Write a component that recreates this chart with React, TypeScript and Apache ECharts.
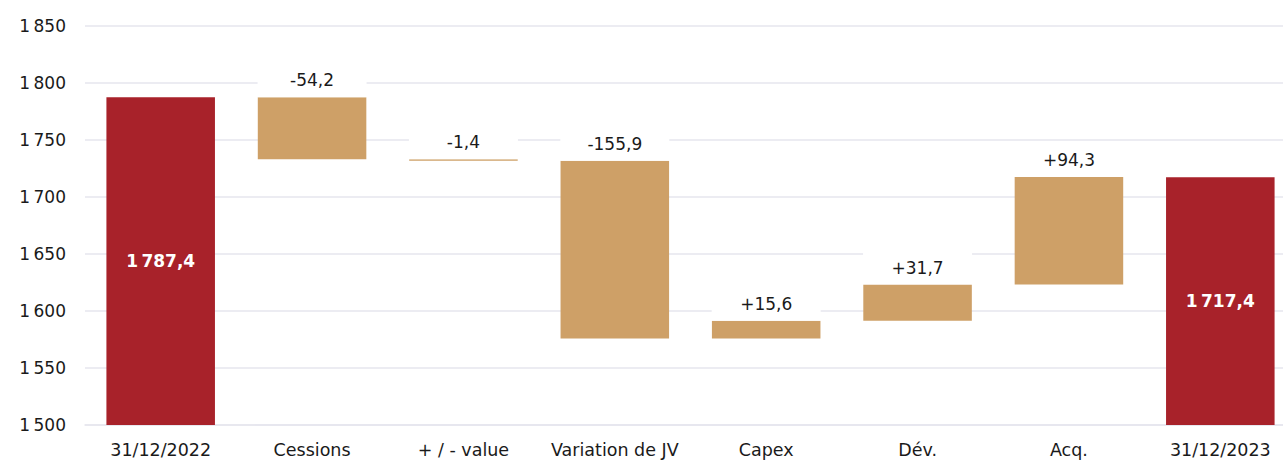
import React, { useEffect, useRef } from "react";
import * as echarts from "echarts";

const categories = ["31/12/2022", "Cessions", "+ / - value", "Variation de JV", "Capex", "Dév.", "Acq.", "31/12/2023"];
const startTotal = 1787.4;
const endTotal = 1717.4;
const deltas = [-54.2, -1.4, -155.9, 15.6, 31.7, 94.3];
const yMin = 1500;
const yMax = 1850;
const yStep = 50;

const RED = "#a8222a";
const TAN = "#cea067";
const TEXT = "#1a1a1a";
const GRID = "#e6e6ee";
const FONT = "DejaVu Sans";

function frNum(v: number, decimals: number): string {
  const fixed = Math.abs(v).toFixed(decimals);
  const [intPart, dec] = fixed.split(".");
  const grouped = intPart.replace(/\B(?=(\d{3})+(?!\d))/g, "\u202f");
  return (v < 0 ? "-" : "") + grouped + (dec ? "," + dec : "");
}

export default function App() {
  const ref = useRef<HTMLDivElement>(null);
  useEffect(() => {
    if (!ref.current) return;
    const chart = echarts.init(ref.current, null, { renderer: "svg" });

    const base: (number | string)[] = ["-"];
    const up: (number | string)[] = ["-"];
    const totals: (number | string)[] = [startTotal];
    let running = startTotal;
    deltas.forEach((d) => {
      const next = running + d;
      base.push(Math.min(running, next) - yMin);
      up.push(Math.abs(d));
      totals.push("-");
      running = next;
    });
    base.push("-");
    up.push("-");
    totals.push(endTotal);

    const totalsOffset = totals.map((t) => (t === "-" ? "-" : (t as number) - yMin));

    chart.setOption({
      animation: false,
      grid: { left: 85, right: 0, top: 26, bottom: 37, containLabel: false },
      xAxis: {
        type: "category",
        data: categories,
        axisLine: { show: true, lineStyle: { color: GRID, width: 1.5 } },
        axisTick: { show: false },
        axisLabel: { color: TEXT, fontSize: 17.5, fontFamily: FONT, margin: 16, interval: 0 },
      },
      yAxis: {
        type: "value",
        min: 0,
        max: yMax - yMin,
        interval: yStep,
        axisLine: { show: false },
        axisTick: { show: false },
        splitLine: { lineStyle: { color: GRID, width: 1.5 } },
        axisLabel: {
          color: TEXT,
          fontSize: 17,
          fontFamily: FONT,
          margin: 19,
          formatter: (v: number) => frNum(v + yMin, 0),
        },
      },
      series: [
        {
          type: "bar",
          stack: "w",
          data: base,
          barWidth: "71.7%",
          itemStyle: { color: "transparent" },
          silent: true,
        },
        {
          type: "bar",
          stack: "w",
          data: up,
          barWidth: "71.7%",
          itemStyle: { color: TAN },
          label: {
            show: true,
            position: "top",
            distance: 0,
            formatter: (p: any) => {
              const d = deltas[p.dataIndex - 1];
              return (d > 0 ? "+" : "") + frNum(d, 1);
            },
            color: TEXT,
            fontSize: 17,
            fontFamily: FONT,
            backgroundColor: "#ffffff",
            width: 109,
            align: "center",
            lineHeight: 18,
            padding: [6, 0, 8, 0],
          },
        },
        {
          type: "bar",
          stack: "w",
          data: totalsOffset,
          barWidth: "71.7%",
          itemStyle: { color: RED },
          label: {
            show: true,
            position: "inside",
            formatter: (p: any) => frNum((totals[p.dataIndex] as number), 1),
            color: "#ffffff",
            fontSize: 17,
            fontWeight: "bold",
            fontFamily: FONT,
          },
        },
      ],
    });
    return () => chart.dispose();
  }, []);
  return (
    <div style={{ position: "absolute", left: 0, top: 0, width: 1283, height: 462, overflow: "hidden" }}>
      <div ref={ref} style={{ width: 1296, height: 462 }} />
    </div>
  );
}
